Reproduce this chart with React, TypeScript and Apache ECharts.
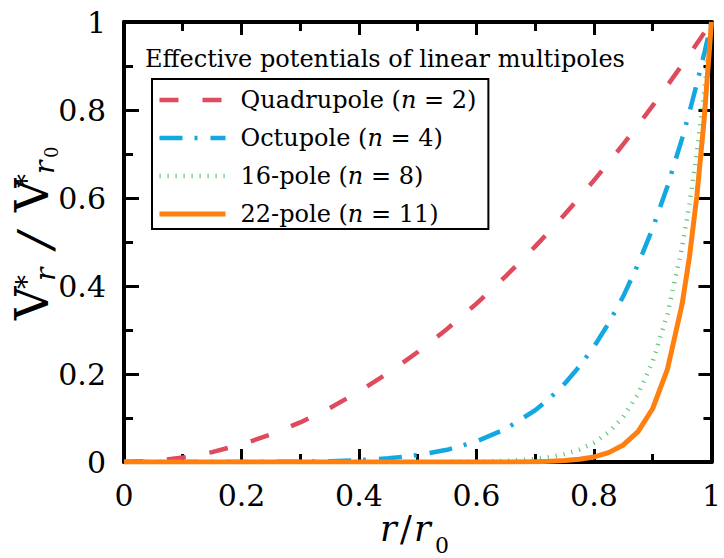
import React, { useEffect, useRef } from "react";
import * as echarts from "echarts";

const FONT = "DejaVu Serif";

// r / r0 sample positions
const rValues = [0, 0.05, 0.1, 0.15, 0.2, 0.25, 0.3, 0.35, 0.4, 0.45, 0.5, 0.55, 0.6, 0.65, 0.7, 0.725, 0.75, 0.775, 0.8, 0.825, 0.85, 0.875, 0.9, 0.925, 0.95, 0.9625, 0.975, 0.9875, 1];

// V*_r / V*_r0
const quadrupole = [0, 0.0025, 0.01, 0.0225, 0.04, 0.0625, 0.09, 0.1225, 0.16, 0.2025, 0.25, 0.3025, 0.36, 0.4225, 0.49, 0.5256, 0.5625, 0.6006, 0.64, 0.6806, 0.7225, 0.7656, 0.81, 0.8556, 0.9025, 0.9264, 0.9506, 0.9752, 1];
const octupole = [0, 0, 0, 0, 0.00006, 0.00024, 0.00073, 0.00184, 0.0041, 0.0083, 0.0156, 0.0277, 0.0467, 0.0754, 0.1176, 0.1452, 0.178, 0.2167, 0.2621, 0.3153, 0.3771, 0.4489, 0.5314, 0.6264, 0.7351, 0.7951, 0.8591, 0.9273, 1];
const pole16 = [0, 0, 0, 0, 0, 0, 0, 0, 0, 0, 0.00006, 0.00023, 0.00078, 0.0024, 0.0068, 0.0111, 0.0178, 0.0282, 0.044, 0.0676, 0.1028, 0.1542, 0.2288, 0.3357, 0.4877, 0.5856, 0.7016, 0.8385, 1];
const pole22 = [0, 0, 0, 0, 0, 0, 0, 0, 0, 0, 0, 0, 0.00004, 0.00018, 0.0008, 0.0016, 0.0032, 0.0061, 0.0115, 0.0213, 0.0388, 0.0692, 0.1216, 0.2103, 0.3585, 0.4656, 0.6027, 0.7776, 1];

const seriesNames = ["Quadrupole (n = 2)", "Octupole (n = 4)", "16-pole (n = 8)", "22-pole (n = 11)"];
const seriesValues = [quadrupole, octupole, pole16, pole22];
const seriesColors = ["#df4a5c", "#13a8e2", "#66c97a", "#ff7f0f"];
const seriesDash: any[] = [[19, 24], [23, 12, 3, 13], [1.2, 6.8], "solid"];
const seriesWidth = [4.5, 4.5, 4.5, 5];

const titleText = "Effective potentials of linear multipoles";

function txt(x: number, baseline: number, text: string, fontSize: number, italic = false) {
  return {
    type: "text",
    x,
    y: baseline - 0.346 * fontSize,
    silent: true,
    style: {
      text,
      font: `${italic ? "italic" : "normal"} normal ${fontSize}px ${FONT}`,
      fill: "#000",
      align: "left",
      verticalAlign: "middle",
    },
  };
}

export default function App() {
  const ref = useRef<HTMLDivElement>(null);
  useEffect(() => {
    if (!ref.current) return;
    const chart = echarts.init(ref.current, undefined, { renderer: "svg" });

    const axisCommon = (pos: string, labels: boolean, major: number, minor: number) => ({
      type: "value",
      min: 0,
      max: 1,
      interval: 0.2,
      position: pos,
      axisLine: { show: true, onZero: false, lineStyle: { color: "#000", width: 4 } },
      axisTick: { show: true, inside: true, length: major, lineStyle: { color: "#000", width: 3 } },
      minorTick: { show: true, splitNumber: 2, length: minor, lineStyle: { color: "#000", width: 3 } },
      splitLine: { show: false },
      minorSplitLine: { show: false },
      axisLabel: {
        show: labels,
        fontFamily: FONT,
        fontSize: 30,
        color: "#000",
        margin: 18,
      },
    });

    const option: any = {
      animation: false,
      backgroundColor: "#fff",
      textStyle: { fontFamily: FONT },
      grid: { left: 124, right: 10, top: 22, bottom: 96, containLabel: false },
      xAxis: [axisCommon("bottom", true, 13, 8), axisCommon("top", false, 13, 9)],
      yAxis: [axisCommon("left", true, 15, 9), axisCommon("right", false, 13, 8)],
      legend: {
        orient: "vertical",
        left: 152,
        top: 79,
        padding: [6, 12, 0, 5],
        itemWidth: 66,
        itemHeight: 20,
        itemGap: 8,
        borderColor: "#000",
        borderWidth: 2,
        backgroundColor: "#fff",
        data: seriesNames,
        itemStyle: { opacity: 0 },
        lineStyle: { width: "inherit", type: "inherit" },
        textStyle: {
          fontFamily: FONT,
          fontSize: 24,
          color: "#000",
          lineHeight: 30,
          padding: [0, 0, 0, 10],
          rich: {
            t: { fontFamily: FONT, fontSize: 24, color: "#000" },
            i: { fontFamily: FONT, fontSize: 24, color: "#000", fontStyle: "italic" },
          },
        },
        formatter: (name: string) => {
          const m = name.match(/^(.*\()n( = .*)$/);
          if (!m) return name;
          return `{t|${m[1]}}{i|n}{t|${m[2]}}`;
        },
      },
      series: seriesNames.map((name, k) => ({
        name,
        type: "line",
        xAxisIndex: 0,
        yAxisIndex: 0,
        symbol: "none",
        smooth: false,
        data: rValues.map((r, i) => [r, seriesValues[k][i]]),
        lineStyle: { color: seriesColors[k], width: seriesWidth[k], type: seriesDash[k], cap: "butt", join: "round" },
        itemStyle: { color: seriesColors[k] },
        z: 2 + k,
      })),
      graphic: [
        txt(145, 67, titleText, 24),
        // x axis name: r / r0
        txt(380, 541, "r", 35, true),
        txt(400, 541, "/", 35),
        txt(414, 541, "r", 35, true),
        txt(435, 553, "0", 22),
        // y axis name: V*_r / V*_r0 (rotated)
        {
          type: "group",
          x: 48,
          y: 320,
          rotation: Math.PI / 2,
          silent: true,
          children: [
            txt(0, 0, "V", 46),
            txt(31, -12, "*", 28),
            txt(39, 7, "r", 28, true),
            txt(72, 3, "/", 46, true),
            txt(108, 0, "V", 46),
            txt(132, -12, "*", 28),
            txt(146, 6, "r", 28, true),
            txt(162, 10, "0", 18),
          ],
        },
      ],
    };
    chart.setOption(option);
    return () => chart.dispose();
  }, []);
  return (
    <div
      ref={ref}
      style={{ position: "fixed", left: 0, top: 0, width: 724, height: 558, background: "#fff" }}
    />
  );
}
